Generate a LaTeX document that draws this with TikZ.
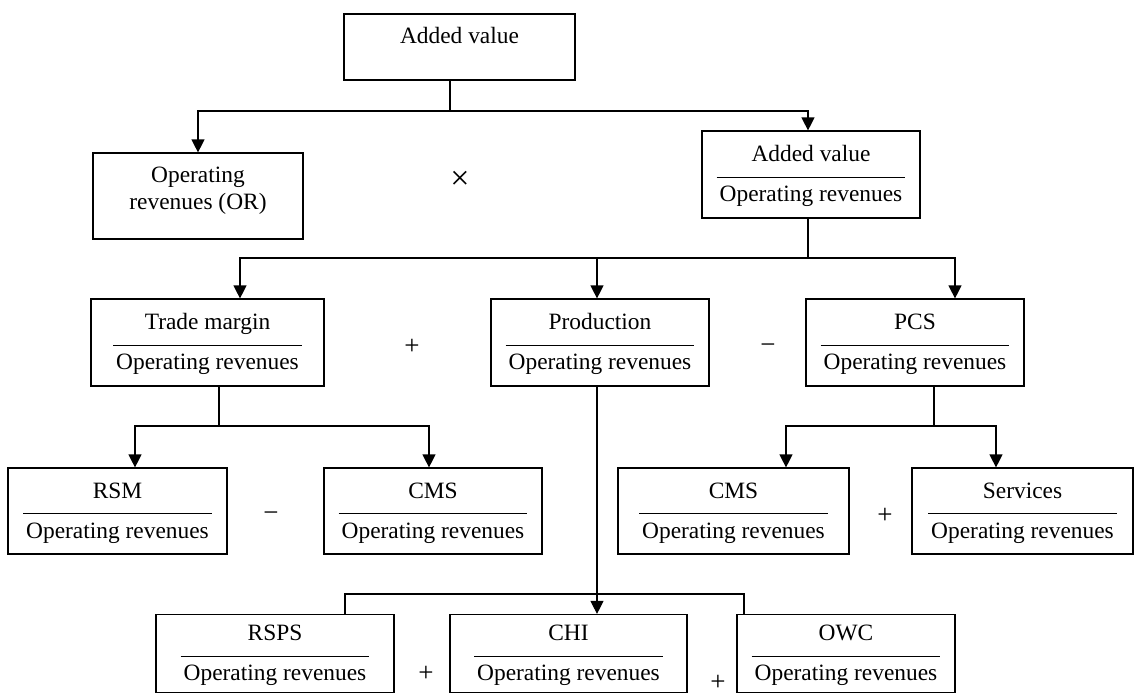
\documentclass[tikz,border=0pt]{standalone}
\usepackage{fontspec}
\setmainfont{Liberation Serif}
\usetikzlibrary{arrows.meta}

\setlength{\arrayrulewidth}{0.5pt}
% numerator over a rule over "Operating revenues"
\newcommand{\ratio}[1]{\begin{tabular}{@{\hspace{1.5pt}}c@{\hspace{1.5pt}}}\rule[-7.5pt]{0pt}{20.5pt}#1\\\hline\rule[-6pt]{0pt}{18pt}Operating revenues\end{tabular}}

\tikzset{
  box/.style={draw, line width=0.6pt, inner sep=0pt, align=center},
  op/.style={font=\fontsize{13.5}{15}\selectfont},
  link/.style={line width=0.6pt},
  arr/.style={link, -{Triangle[width=6.5pt,length=6.5pt]}},
}

\begin{document}
\begin{tikzpicture}[x=0.5pt, y=-0.5pt, font=\fontsize{11.7}{13.5}\selectfont]
  \useasboundingbox (0,0) rectangle (1135,697);

  % first level
  \node[box, minimum width=115.5pt, minimum height=33pt, text height=9pt, text depth=13pt] (top) at (459.5,47) {Added value};
  \node[box, minimum width=105pt, minimum height=43pt] (orev) at (198,196) {Operating\\revenues (OR)\rule[-8pt]{0pt}{0pt}};
  \node[box, minimum width=109pt, minimum height=43.5pt] (avor) at (811,174.5) {\ratio{Added value}};
  \node[op, font=\fontsize{17}{18}\selectfont] (times) at (460,180) {×};

  % second level
  \node[box, minimum width=116.5pt, minimum height=43.5pt] (trade) at (207.5,342.5) {\ratio{Trade margin}};
  \node[box, minimum width=109pt, minimum height=43.5pt] (prod) at (600,342.5) {\ratio{Production}};
  \node[box, minimum width=109pt, minimum height=43.5pt] (pcs) at (915,342.5) {\ratio{PCS}};
  \node[op] (plusa) at (412,347) {+};
  \node[op] (minusa) at (768,349) {−};

  % third level
  \node[box, minimum width=109.5pt, minimum height=43pt] (rsm) at (117.5,511) {\ratio{RSM}};
  \node[box, minimum width=109pt, minimum height=43pt] (cms) at (433,511) {\ratio{CMS}};
  \node[box, minimum width=115.5pt, minimum height=43pt] (cmsb) at (733.5,511) {\ratio{CMS}};
  \node[box, minimum width=110.5pt, minimum height=43pt] (serv) at (1022.5,511) {\ratio{Services}};
  \node[op] (minusb) at (271,517) {−};
  \node[op] (plusb) at (885,516) {+};

  % bottom level
  \node[box, minimum width=119pt, minimum height=38.5pt] (rsps) at (275,653.5) {\ratio{RSPS}};
  \node[box, minimum width=118.5pt, minimum height=38.5pt] (chi) at (568.5,653.5) {\ratio{CHI}};
  \node[box, minimum width=109pt, minimum height=38.5pt] (owc) at (846,653.5) {\ratio{OWC}};
  \node[op] (plusc) at (426,674) {+};
  \node[op] (plusd) at (718,683) {+};

  % connectors
  \coordinate (j1) at (450,111);
  \draw[link] (top.south -| j1) -- (j1);
  \draw[arr] (j1) -| (orev.north);
  \draw[arr] (j1) -| ([xshift=-1.5pt]avor.north);

  \coordinate (j2) at (808,258);
  \draw[link] (avor.south -| j2) -- (j2);
  \draw[arr] (j2) -| ([xshift=16.25pt]trade.north);
  \draw[arr] (j2) -| ([xshift=-1.5pt]prod.north);
  \draw[arr] (j2) -| ([xshift=20pt]pcs.north);

  \coordinate (j3) at (219,426);
  \draw[link] (trade.south -| j3) -- (j3);
  \draw[arr] (j3) -| ([xshift=8.75pt]rsm.north);
  \draw[arr] (j3) -| ([xshift=-2pt]cms.north);

  \coordinate (j4) at (934,426);
  \draw[link] (pcs.south -| j4) -- (j4);
  \draw[arr] (j4) -| ([xshift=26.25pt]cmsb.north);
  \draw[arr] (j4) -| ([xshift=-13.25pt]serv.north);

  \draw[arr] ([xshift=-1.5pt]prod.south) -- ([xshift=14.25pt]chi.north);
  \coordinate (j5) at (597,594);
  \draw[link] ([xshift=35pt]rsps.north) |- (j5) -| ([xshift=-51pt]owc.north);
\end{tikzpicture}
\end{document}
